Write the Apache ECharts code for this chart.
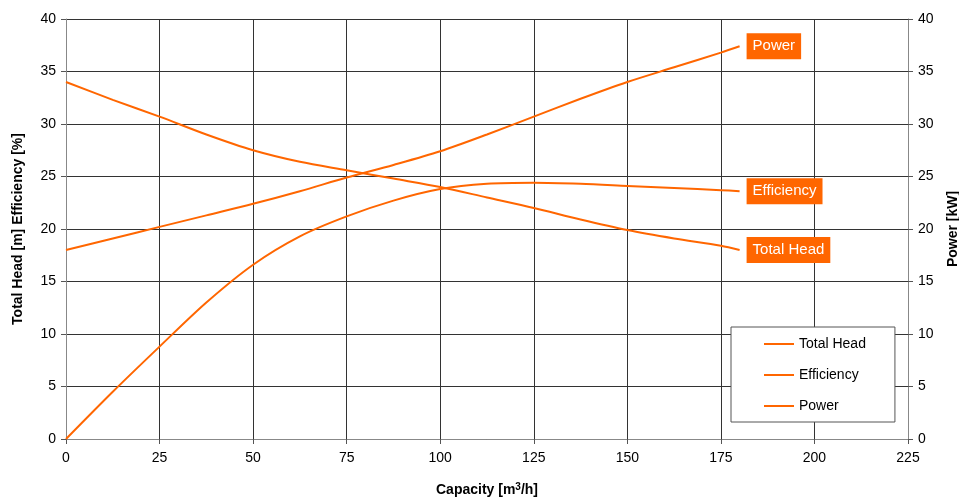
<!DOCTYPE html>
<html>
<head>
<meta charset="utf-8">
<script src="https://cdn.jsdelivr.net/npm/echarts@6/dist/echarts.min.js"></script>
<style>
html,body{margin:0;padding:0;background:#fff;}
#chart{width:959px;height:498px;}
</style>
</head>
<body>
<div id="chart"></div>
<script>
const capacity = [0, 12.5, 25, 37.5, 50, 62.5, 75, 87.5, 100, 112.5, 125, 137.5, 150, 162.5, 175, 180];
const totalHead = [34, 32.3, 30.7, 29.0, 27.5, 26.4, 25.6, 24.8, 24.0, 23.0, 22.0, 20.9, 19.9, 19.1, 18.4, 18.0];
const efficiency = [0, 4.5, 8.8, 13.0, 16.6, 19.3, 21.2, 22.7, 23.8, 24.3, 24.4, 24.3, 24.1, 23.9, 23.7, 23.6];
const power = [18.0, 19.1, 20.2, 21.3, 22.4, 23.6, 24.9, 26.1, 27.4, 29.0, 30.7, 32.4, 34.0, 35.4, 36.8, 37.4];
const seriesNames = ['Total Head', 'Efficiency', 'Power'];
const xTicks = {min: 0, max: 225, interval: 25};
const yTicks = {min: 0, max: 40, interval: 5};

const ORANGE = '#ff6600';
const FONT = 'Liberation Sans, Arial, sans-serif';

function pairs(ys){ return capacity.map((x,i)=>[x, ys[i]]); }

const chart = echarts.init(document.getElementById('chart'), null, {renderer:'canvas'});

const axisLabel = {color:'#000', fontFamily: FONT, fontSize: 14};
const axisLine = {show:true, lineStyle:{color:'#888', width:1}};
const axisTick = {show:true, inside:false, length:5, lineStyle:{color:'#555'}};
const splitLine = {show:true, lineStyle:{color:'#333', width:1}};

function mkSeries(name, ys, yIndex){
  return {
    name: name,
    type: 'line',
    yAxisIndex: yIndex,
    data: pairs(ys),
    smooth: 0.3,
    symbol: 'none',
    lineStyle: {color: ORANGE, width: 2},
    itemStyle: {color: ORANGE},
    endLabel: {
      show: true,
      formatter: name,
      color: '#fff',
      backgroundColor: ORANGE,
      fontFamily: FONT,
      fontSize: 15,
      padding: [6, 6, 5, 6],
      distance: 7
    },
    emphasis: {disabled: true},
    animation: false
  };
}

chart.setOption({
  animation: false,
  grid: {left: 66, right: 51, top: 19, bottom: 59, containLabel: false, outerBoundsMode: 'none'},
  legend: {
    show: true,
    orient: 'vertical',
    left: 731,
    top: 327,
    padding: [9, 29, 8, 33],
    itemGap: 15,
    itemWidth: 30,
    itemHeight: 2,
    itemTextGap: 4,
    icon: 'rect',
    borderColor: '#555',
    borderWidth: 1,
    backgroundColor: '#fff',
    textStyle: {color:'#000', fontFamily: FONT, fontSize: 14, lineHeight: 16},
    data: seriesNames
  },
  xAxis: {
    type: 'value',
    min: xTicks.min, max: xTicks.max, interval: xTicks.interval,
    name: 'Capacity [m{sup|3}/h]',
    nameLocation: 'middle',
    nameGap: 43,
    nameTextStyle: {color:'#000', fontFamily: FONT, fontSize: 14, fontWeight:'bold',
      rich: {sup: {fontFamily: FONT, fontSize: 10, fontWeight: 'bold', color: '#000', verticalAlign: 'top', padding: [0,0,6,0]}}},
    axisLine: axisLine,
    axisTick: axisTick,
    axisLabel: Object.assign({margin: 12}, axisLabel),
    splitLine: splitLine
  },
  yAxis: [
    {
      type: 'value',
      position: 'left',
      min: yTicks.min, max: yTicks.max, interval: yTicks.interval,
      name: 'Total Head [m] Efficiency [%]',
      nameLocation: 'middle',
      nameGap: 41,
      nameRotate: 90,
      nameTextStyle: {color:'#000', fontFamily: FONT, fontSize: 14, fontWeight:'bold'},
      axisLine: axisLine,
      axisTick: axisTick,
      axisLabel: Object.assign({margin: 10}, axisLabel),
      splitLine: splitLine
    },
    {
      type: 'value',
      position: 'right',
      min: yTicks.min, max: yTicks.max, interval: yTicks.interval,
      name: 'Power [kW]',
      nameLocation: 'middle',
      nameGap: 38,
      nameRotate: 90,
      nameTextStyle: {color:'#000', fontFamily: FONT, fontSize: 14, fontWeight:'bold'},
      axisLine: axisLine,
      axisTick: axisTick,
      axisLabel: Object.assign({margin: 10}, axisLabel),
      splitLine: {show:false}
    }
  ],
  series: [
    mkSeries(seriesNames[0], totalHead, 0),
    mkSeries(seriesNames[1], efficiency, 0),
    mkSeries(seriesNames[2], power, 1)
  ]
});
</script>
</body>
</html>
